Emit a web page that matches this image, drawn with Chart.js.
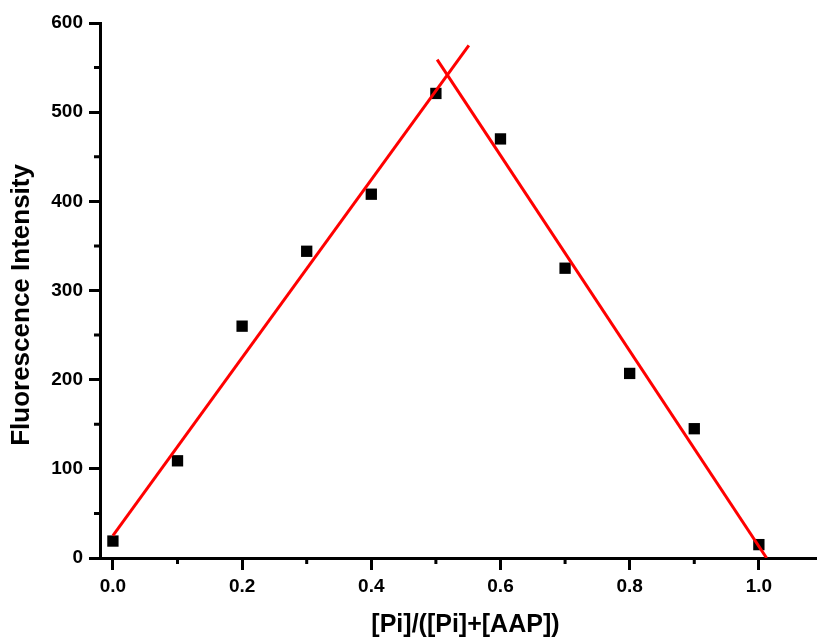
<!DOCTYPE html>
<html>
<head>
<meta charset="utf-8">
<script src="https://cdn.jsdelivr.net/npm/chart.js@4/dist/chart.umd.min.js"></script>
<style>
  html, body { margin: 0; padding: 0; background: #fff; }
  #wrap { width: 817px; height: 643px; }
</style>
</head>
<body>
<div id="wrap"><canvas id="job" width="817" height="643"></canvas></div>
<script>
// measured points
const moleFraction = [0.0, 0.1, 0.2, 0.3, 0.4, 0.5, 0.6, 0.7, 0.8, 0.9, 1.0];
const intensity    = [19, 109, 260, 344, 408, 521, 470, 325, 207, 145, 15];

// the two red fit lines (end points)
const riseX = [0.0, 0.551];
const riseY = [25, 575];
const fallX = [0.502, 1.012];
const fallY = [559, 0];

const X_MINOR = [0.1, 0.3, 0.5, 0.7, 0.9];
const Y_MINOR = [50, 150, 250, 350, 450, 550];

const FONT = "'Liberation Sans', Arial, sans-serif";

const toXY = (xs, ys)=> xs.map((x, i)=>({ x: x, y: ys[i] }));

////////////////////////////////////////////////////////////////////////////////
// minor ticks (chart.js has none)
////////////////////////////////////////////////////////////////////////////////
const minorTicks = {
    id: "minorTicks",
    afterDraw(chart){
        const c = chart.ctx;
        const xs = chart.scales.x;
        const ys = chart.scales.y;
        c.save();
        c.strokeStyle = "#000";
        c.lineWidth = 3;
        c.beginPath();
        X_MINOR.forEach(v=>{
            const px = xs.getPixelForValue(v);
            c.moveTo(px, xs.top);
            c.lineTo(px, xs.top + 6);
        });
        Y_MINOR.forEach(v=>{
            const py = ys.getPixelForValue(v);
            c.moveTo(ys.right, py);
            c.lineTo(ys.right - 6, py);
        });
        c.stroke();
        c.restore();
    }
};

const isMajorX = (v)=> Math.round(v * 10) % 2 === 0;
const isMajorY = (v)=> Math.round(v) % 100 === 0;

////////////////////////////////////////////////////////////////////////////////
// chart
////////////////////////////////////////////////////////////////////////////////
const createChart = ()=>{
    const canvas = document.querySelector("#job");
    new Chart(canvas, {
        type: "scatter",
        data: {
            datasets: [
                { data: toXY(riseX, riseY), showLine: true, borderColor: "#ff0000", borderWidth: 3, pointRadius: 0 },
                { data: toXY(fallX, fallY), showLine: true, borderColor: "#ff0000", borderWidth: 3, pointRadius: 0 },
                { data: toXY(moleFraction, intensity), pointStyle: "rect", pointRadius: 8,
                  backgroundColor: "#000", borderColor: "#000", borderWidth: 0 },
            ],
        },
        options: {
            responsive: false,
            animation: false,
            layout: { autoPadding: false, padding: { top: 23, right: 0, left: 0, bottom: 0 } },
            plugins: { legend: { display: false }, tooltip: { enabled: false } },
            scales: {
                x: {
                    type: "linear",
                    min: -0.02,
                    max: 1.09,
                    afterFit: (s)=>{ s.height = 85; },
                    border: { color: "#000", width: 3 },
                    grid: {
                        drawOnChartArea: false,
                        tickLength: 12,
                        tickWidth: 3,
                        tickColor: (ctx)=> (ctx.tick && isMajorX(ctx.tick.value)) ? "#000" : "rgba(0,0,0,0)",
                    },
                    ticks: {
                        stepSize: 0.1,
                        includeBounds: false,
                        autoSkip: false,
                        maxRotation: 0,
                        padding: 5,
                        color: "#000",
                        font: { family: FONT, size: 19, weight: "bold" },
                        callback: (v)=> isMajorX(v) ? (Math.round(v * 10) / 10).toFixed(1) : "",
                    },
                    title: {
                        display: true,
                        text: "  [Pi]/([Pi]+[AAP])",
                        color: "#000",
                        font: { family: FONT, size: 25, weight: "bold" },
                        padding: { top: 0, bottom: 3 },
                    },
                },
                y: {
                    type: "linear",
                    min: 0,
                    max: 600,
                    afterFit: (s)=>{ s.width = 100; },
                    border: { color: "#000", width: 3 },
                    grid: {
                        drawOnChartArea: false,
                        tickLength: 11,
                        tickWidth: 3,
                        tickColor: (ctx)=> (ctx.tick && isMajorY(ctx.tick.value)) ? "#000" : "rgba(0,0,0,0)",
                    },
                    ticks: {
                        stepSize: 50,
                        autoSkip: false,
                        padding: 6,
                        color: "#000",
                        font: { family: FONT, size: 19, weight: "bold" },
                        callback: (v)=> isMajorY(v) ? String(Math.round(v)) : "",
                    },
                    title: {
                        display: true,
                        // trailing spaces push the text down a little, like the original
                        text: "Fluorescence Intensity    ",
                        color: "#000",
                        font: { family: FONT, size: 26, weight: "bold" },
                        padding: { top: 6, bottom: 0 },
                    },
                },
            },
        },
        plugins: [minorTicks],
    });
};

createChart();
</script>
</body>
</html>
